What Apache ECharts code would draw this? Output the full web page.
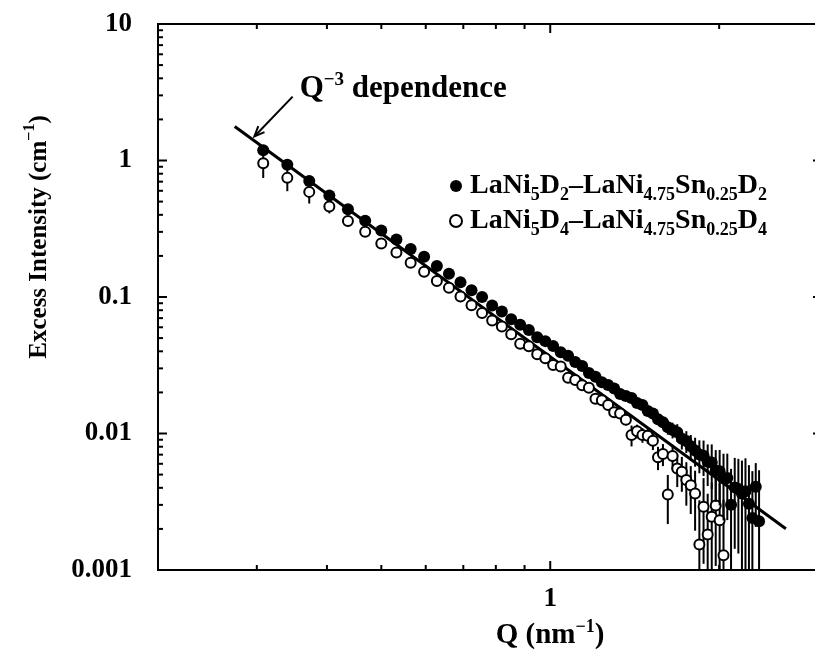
<!DOCTYPE html>
<html><head><meta charset="utf-8">
<script src="https://cdn.jsdelivr.net/npm/echarts@6/dist/echarts.min.js"></script>
<style>html,body{margin:0;padding:0;background:#fff}#c{width:815px;height:651px}</style>
</head><body><div id="c"></div><script>
// ---------- data ----------
const Q = [0.308,0.340,0.372,0.404,0.436,0.468,0.500,0.532,0.564,0.596,
0.628,0.660,0.692,0.724,0.756,0.788,0.820,0.852,0.884,0.916,
0.948,0.980,1.012,1.044,1.076,1.108,1.140,1.172,1.204,1.236,
1.268,1.300,1.332,1.364,1.396,1.428,1.460,1.492,1.524,1.556,
1.588,1.620,1.652,1.684,1.716,1.748,1.780,1.812,1.844,1.876,
1.908,1.940,1.972,2.004,2.036,2.068,2.100,2.132,2.164,2.196,
2.228,2.260,2.292,2.324,2.356];
const I_D2 = [1.188,0.929,0.709,0.554,0.440,0.362,0.307,0.264,0.225,0.197,
0.169,0.148,0.128,0.112,0.100,0.0868,0.0784,0.0687,0.0626,0.0572,
0.0507,0.0475,0.0438,0.0393,0.0371,0.0334,0.0312,0.0277,0.0260,0.0237,
0.0227,0.0214,0.0195,0.0188,0.0182,0.0167,0.0162,0.0146,0.0140,0.0127,
0.0121,0.0111,0.0106,0.0102,0.00914,0.00880,0.00806,0.00751,0.00701,0.00688,
0.00622,0.00612,0.00536,0.00528,0.00471,0.00472,0.00301,0.00403,0.00392,0.00363,
0.00378,0.00306,0.00240,0.00407,0.00228];
const ERR_D2 = [0.02,0.015,0.01,0.008,0.006,0.005,0.004,0.004,0.003,0.003,
0.0025,0.002,0.002,0.0017,0.0015,0.0013,0.0012,0.0011,0.001,0.0009,
0.0009,0.0009,0.0008,0.0008,0.0008,0.0007,0.0007,0.0007,0.0007,0.0007,
0.0007,0.0007,0.0007,0.0008,0.0009,0.0009,0.001,0.001,0.0011,0.0011,
0.0012,0.0013,0.0014,0.0015,0.0015,0.0016,0.0017,0.0018,0.0019,0.002,
0.0021,0.0022,0.0022,0.0023,0.0024,0.0024,0.0025,0.0026,0.0026,0.0027,
0.0028,0.0028,0.0029,0.0020,0.0031];
const I_D4 = [0.954,0.746,0.589,0.460,0.360,0.301,0.247,0.212,0.178,0.153,
0.131,0.117,0.101,0.0869,0.0764,0.0674,0.0608,0.0534,0.0454,0.0436,
0.0381,0.0356,0.0318,0.0310,0.0256,0.0247,0.0226,0.0216,0.0180,0.0175,
0.0162,0.0143,0.0140,0.0126,0.00974,0.0104,0.00975,0.00961,0.00886,0.00669,
0.00707,0.00357,0.00684,0.00555,0.00524,0.00456,0.00417,0.00364,0.00154,0.00291,
0.00182,0.00246,0.00297,0.00231,0.00128];
const ERR_D4 = [0.21,0.15,0.105,0.05,0.03,0.02,0.015,0.012,0.009,0.007,
0.006,0.005,0.004,0.0035,0.003,0.0027,0.0024,0.0022,0.002,0.0018,
0.0017,0.0016,0.0015,0.0014,0.0013,0.0013,0.0012,0.0012,0.0012,0.0011,
0.0011,0.0011,0.0011,0.0011,0.0017,0.0012,0.0012,0.0012,0.0013,0.0013,
0.0013,0.0014,0.0014,0.0015,0.0015,0.0016,0.0016,0.0017,0.0017,0.0018,
0.0018,0.0019,0.0019,0.002,0.002];
// Q^-3 guide line end points
const FIT_Q = [0.274, 2.63];
const FIT_I = [1.774, 0.002006];
// annotation arrow: tail -> head
const ARROW_FROM = [0.3475, 2.94];
const ARROW_TO = [0.297, 1.50];
// axes and ticks
const X_MIN = 0.2, X_MAX = 3.05, Y_MIN = 0.001, Y_MAX = 10;
const X_MINOR_TICKS = [0.3,0.4,0.5,0.6,0.7,0.8,0.9,2];
const X_MAJOR_TICKS = [1];
const X_LABELS = {'1':'1'};
const Y_MAJOR_TICKS = [0.001,0.01,0.1,1,10];
const Y_LABELS = ['0.001','0.01','0.1','1','10'];
const Y_MINOR_MANT = [2,3,4,5,6,7,8,9];
const NAME_D2 = 'LaNi5D2–LaNi4.75Sn0.25D2';
const NAME_D4 = 'LaNi5D4–LaNi4.75Sn0.25D4';

// ---------- chart ----------
const FONT = '"Liberation Serif","Times New Roman",serif';
const chart = echarts.init(document.getElementById('c'), null, {renderer:'canvas'});

const yMinor = [];
Y_MAJOR_TICKS.slice(0, 4).forEach(d => Y_MINOR_MANT.forEach(m => yMinor.push(+(d*m).toPrecision(3))));
const xTickData = X_MINOR_TICKS.map(v => [v, 1, 5]).concat(X_MAJOR_TICKS.map(v => [v, 1, 9]));
const yTickData = yMinor.map(v => [1, v, 5]).concat(Y_MAJOR_TICKS.map(v => [1, v, 9]));

const rich = (main, sub) => ({
  a: {fontFamily:FONT, fontWeight:'bold', fontSize:main, lineHeight:36, color:'#000', padding:[0,0,0,3]},
  m: {fontFamily:FONT, fontWeight:'bold', fontSize:main, lineHeight:36, color:'#000'},
  b: {fontFamily:FONT, fontWeight:'bold', fontSize:sub, lineHeight:sub, verticalAlign:'bottom', color:'#000'},
  p: {fontFamily:FONT, fontWeight:'bold', fontSize:sub, lineHeight:sub, verticalAlign:'top', color:'#000'}
});
const LEGEND_RICH = {};
LEGEND_RICH[NAME_D2] = '{a|LaNi}{b|5}{m|D}{b|2}{m|–LaNi}{b|4.75}{m|Sn}{b|0.25}{m|D}{b|2}';
LEGEND_RICH[NAME_D4] = '{a|LaNi}{b|5}{m|D}{b|4}{m|–LaNi}{b|4.75}{m|Sn}{b|0.25}{m|D}{b|4}';

function errRender(params, api) {
  const q = api.value(0), v = api.value(1), e = api.value(2);
  const hi = api.coord([q, v + e]);
  const lo = api.coord([q, Math.max(v - e, Y_MIN)]);
  return {type:'line', shape:{x1:hi[0], y1:hi[1], x2:lo[0], y2:lo[1]}, style:{stroke:'#000', lineWidth:2}};
}
function xTickRender(params, api) {
  const cs = params.coordSys;
  const x = api.coord([api.value(0), 1])[0];
  const len = api.value(2);
  const yb = cs.y + cs.height, yt = cs.y;
  return {type:'group', children:[
    {type:'line', shape:{x1:x, y1:yb, x2:x, y2:yb-len}, style:{stroke:'#000', lineWidth:2}},
    {type:'line', shape:{x1:x, y1:yt, x2:x, y2:yt+len}, style:{stroke:'#000', lineWidth:2}}]};
}
function yTickRender(params, api) {
  const cs = params.coordSys;
  const y = api.coord([1, api.value(1)])[1];
  const len = api.value(2);
  const xl = cs.x, xr = cs.x + cs.width;
  return {type:'group', children:[
    {type:'line', shape:{x1:xl, y1:y, x2:xl+len, y2:y}, style:{stroke:'#000', lineWidth:2}},
    {type:'line', shape:{x1:xr, y1:y, x2:xr-len, y2:y}, style:{stroke:'#000', lineWidth:2}}]};
}
function arrowRender(params, api) {
  const p1 = api.coord([api.value(0), api.value(1)]);
  const p2 = api.coord([api.value(2), api.value(3)]);
  const ang = Math.atan2(p1[1]-p2[1], p1[0]-p2[0]);
  const L = 11, w = 0.4;
  const b1 = [p2[0] + L*Math.cos(ang+w), p2[1] + L*Math.sin(ang+w)];
  const b2 = [p2[0] + L*Math.cos(ang-w), p2[1] + L*Math.sin(ang-w)];
  return {type:'group', children:[
    {type:'line', shape:{x1:p1[0], y1:p1[1], x2:p2[0], y2:p2[1]}, style:{stroke:'#000', lineWidth:2}},
    {type:'polyline', shape:{points:[b1, p2, b2]}, style:{stroke:'#000', lineWidth:2, fill:null}},
    {type:'text', x:p1[0]+7, y:p1[1]-8, style:{text:'{m|Q}{p|−3}{m| dependence}', rich:rich(31,19), align:'left', verticalAlign:'middle'}}
  ]};
}

chart.setOption({
  animation:false,
  backgroundColor:'#fff',
  grid:{left:158, top:24, width:664, height:546, show:true, borderColor:'#000', borderWidth:2, backgroundColor:'transparent',
    containLabel:false, outerBoundsMode:'none'},
  xAxis:{type:'log', logBase:10, min:X_MIN, max:X_MAX,
    axisLine:{show:false}, axisTick:{show:false}, splitLine:{show:false}, minorTick:{show:false},
    axisLabel:{color:'#000', fontFamily:FONT, fontWeight:'bold', fontSize:27, margin:16,
      formatter: v => { const k = String(+v.toPrecision(6)); return X_LABELS[k] || ''; }},
    name:'{m|Q (nm}{p|−1}{m|)}', nameLocation:'middle', nameGap:45,
    nameTextStyle:{rich:rich(29,18), padding:[0,0,0,120]}},
  yAxis:{type:'log', logBase:10, min:Y_MIN, max:Y_MAX,
    axisLine:{show:false}, axisTick:{show:false}, splitLine:{show:false}, minorTick:{show:false},
    axisLabel:{color:'#000', fontFamily:FONT, fontWeight:'bold', fontSize:27, margin:26,
      formatter: v => { const i = Y_MAJOR_TICKS.findIndex(t => Math.abs(Math.log10(t) - Math.log10(v)) < 1e-6); return i >= 0 ? Y_LABELS[i] : ''; }},
    name:'{m|Excess Intensity (cm}{p|−1}{m|)}', nameLocation:'middle', nameRotate:90, nameGap:100,
    nameTextStyle:{rich:rich(25,16), padding:[0,0,0,120]}},
  legend:{orient:'vertical', left:444, top:167, itemWidth:12, itemHeight:12, itemGap:3, selectedMode:false,
    data:[NAME_D2, NAME_D4], formatter: n => LEGEND_RICH[n], textStyle:{rich:rich(28,18)}},
  series:[
    {type:'custom', name:'xticks', renderItem:xTickRender, data:xTickData, encode:{x:0, y:1}, z:10, silent:true},
    {type:'custom', name:'yticks', renderItem:yTickRender, data:yTickData, encode:{x:0, y:1}, z:10, silent:true},
    {type:'line', name:'fit', data:FIT_Q.map((q,k) => [q, FIT_I[k]]), symbol:'none', lineStyle:{color:'#000', width:3}, z:2, silent:true},
    {type:'custom', name:'errD4', renderItem:errRender, data:I_D4.map((v,k) => [Q[k], v, ERR_D4[k]]), encode:{x:0, y:1}, z:3, silent:true},
    {type:'scatter', name:NAME_D4, data:I_D4.map((v,k) => [Q[k], v]), symbol:'circle', symbolSize:10,
      itemStyle:{color:'#fff', borderColor:'#000', borderWidth:2, opacity:1}, z:4},
    {type:'custom', name:'errD2', renderItem:errRender, data:I_D2.map((v,k) => [Q[k], v, ERR_D2[k]]), encode:{x:0, y:1}, z:5, silent:true},
    {type:'scatter', name:NAME_D2, data:I_D2.map((v,k) => [Q[k], v]), symbol:'circle', symbolSize:12,
      itemStyle:{color:'#000', opacity:1}, z:6},
    {type:'custom', name:'arrow', renderItem:arrowRender, data:[[ARROW_FROM[0], ARROW_FROM[1], ARROW_TO[0], ARROW_TO[1]]], encode:{x:[0,2], y:[1,3]}, z:7, silent:true}
  ]
});
</script></body></html>
